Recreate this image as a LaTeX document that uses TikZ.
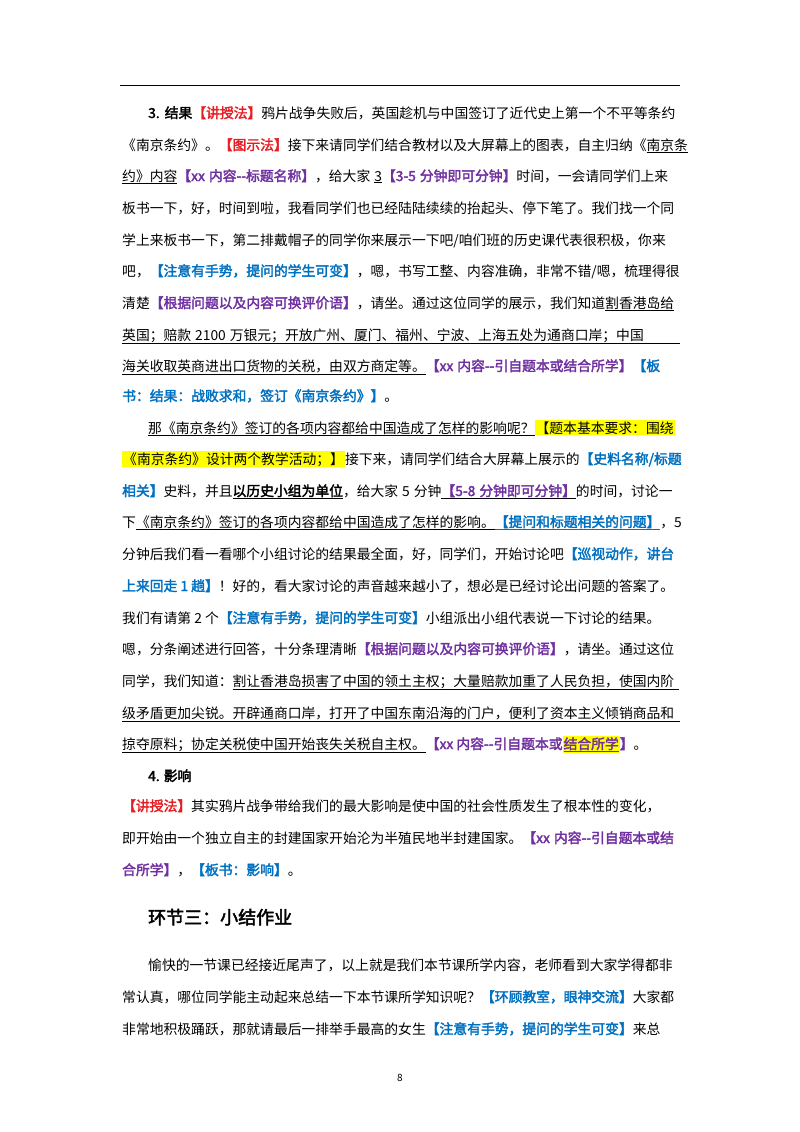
\documentclass[tikz,border=0pt]{standalone}
\usepackage{fontspec}
\setmainfont{Noto Sans CJK SC}[AutoFakeBold=2.5,Ligatures=NoCommon]
\definecolor{cR}{RGB}{230,30,35}
\definecolor{cP}{RGB}{112,48,160}
\definecolor{cB}{RGB}{0,112,192}
\definecolor{cY}{RGB}{255,255,0}
\newcommand\rd[1]{\textcolor{cR}{\textbf{#1}}}
\newcommand\pu[1]{\textcolor{cP}{\textbf{#1}}}
\newcommand\bl[1]{\textcolor{cB}{\textbf{#1}}}
\newcommand\ul[1]{\underline{#1}}
\newcommand\hy[1]{{\fboxsep=1pt\colorbox{cY}{#1}}}
\newcommand\Jf[1]{\makebox[558pt][s]{\spaceskip=4pt\relax #1}}
\newcommand\Ji[1]{\makebox[532pt][s]{\spaceskip=4pt\relax #1}}
\newcommand\dd{{-}{-}}
\XeTeXlinebreaklocale "zh"
\XeTeXlinebreakskip=0pt plus 4pt minus 0.3pt
\begin{document}
\begin{tikzpicture}[x=1pt,y=-1pt,
  ln/.style={anchor=base west,inner sep=0pt,font=\fontsize{13.8}{16}\selectfont}]
\useasboundingbox (0,0) rectangle (800,1132);
\draw[line width=0.6pt] (120,85) -- (680,85);
\def\a{148}\def\b{122}
\node[ln] (l1) at (\a,118) {\Ji{\textbf{3. 结果}\rd{【讲授法】}鸦片战争失败后，英国趁机与中国签订了近代史上第一个不平等条约}};
\node[ln] (l2) at (\b,150) {\Jf{《南京条约》。\rd{【图示法】}接下来请同学们结合教材以及大屏幕上的图表，自主归纳《\ul{南京条}}};
\node[ln] (l3) at (\b,181) {\Jf{\ul{约》内容}\pu{【xx 内容\dd 标题名称】}，给大家 \ul{3}\pu{【3-5 分钟即可分钟】}时间，一会请同学们上来}};
\node[ln] (l4) at (\b,213) {\Jf{板书一下，好，时间到啦，我看同学们也已经陆陆续续的抬起头、停下笔了。我们找一个同}};
\node[ln] (l5) at (\b,245) {\Jf{学上来板书一下，第二排戴帽子的同学你来展示一下吧/咱们班的历史课代表很积极，你来}};
\node[ln] (l6) at (\b,276) {\Jf{吧，\bl{【注意有手势，提问的学生可变】}，嗯，书写工整、内容准确，非常不错/嗯，梳理得很}};
\node[ln] (l7) at (\b,308) {\Jf{清楚\pu{【根据问题以及内容可换评价语】}，请坐。通过这位同学的展示，我们知道\ul{割香港岛给}}};
\node[ln] (l8) at (\b,340) {\ul{\Jf{英国；赔款 2100 万银元；开放广州、厦门、福州、宁波、上海五处为通商口岸；中国}}};
\node[ln] (l9) at (\b,371) {\Jf{\ul{海关收取英商进出口货物的关税，由双方商定等。}\pu{【xx 内容\dd 引自题本或结合所学】}\bl{【板}}};
\node[ln] (l10) at (\b,401) {\bl{书：结果：战败求和，签订《南京条约》】}。};
\node[ln] (m1) at (\a,433) {\Ji{\ul{那《南京条约》签订的各项内容都给中国造成了怎样的影响呢？}\hy{【题本基本要求：围绕}}};
\node[ln] (m2) at (\b,464) {\Jf{\hy{《南京条约》设计两个教学活动；】}接下来，请同学们结合大屏幕上展示的\bl{【史料名称/标题}}};
\node[ln] (m3) at (\b,496) {\Jf{\bl{相关】}史料，并且\ul{\textbf{以历史小组为单位}}，给大家 5 分钟\ul{\pu{【5-8 分钟即可分钟】}}的时间，讨论一}};
\node[ln] (m4) at (\b,527) {\Jf{下\ul{《南京条约》签订的各项内容都给中国造成了怎样的影响。}\bl{\ul{【提问和标题相关的问题】}}，5}};
\node[ln] (m5) at (\b,559) {\Jf{分钟后我们看一看哪个小组讨论的结果最全面，好，同学们，开始讨论吧\bl{【巡视动作，讲台}}};
\node[ln] (m6) at (\b,591) {\bl{上来回走 1 趟】}！好的，看大家讨论的声音越来越小了，想必是已经讨论出问题的答案了。};
\node[ln] (m7) at (\b,623) {我们有请第 2 个\bl{【注意有手势，提问的学生可变】}小组派出小组代表说一下讨论的结果。};
\node[ln] (m8) at (\b,654) {\Jf{嗯，分条阐述进行回答，十分条理清晰\pu{【根据问题以及内容可换评价语】}，请坐。通过这位}};
\node[ln] (m9) at (\b,686) {同学，我们知道：\ul{\makebox[446pt][s]{割让香港岛损害了中国的领土主权；大量赔款加重了人民负担，使国内阶}}};
\node[ln] (m10) at (\b,718) {\ul{\Jf{级矛盾更加尖锐。开辟通商口岸，打开了中国东南沿海的门户，便利了资本主义倾销商品和}}};
\node[ln] (m11) at (\b,749) {\ul{掠夺原料；协定关税使中国开始丧失关税自主权。}\pu{【xx 内容\dd 引自题本或}\hy{\pu{\ul{结合所学}}}\pu{】}。};
\node[ln] (h4) at (\a,781) {\textbf{4. 影响}};
\node[ln] (n1) at (\b,811) {\Jf{\rd{【讲授法】}其实鸦片战争带给我们的最大影响是使中国的社会性质发生了根本性的变化，}};
\node[ln] (n2) at (\b,843) {\Jf{即开始由一个独立自主的封建国家开始沦为半殖民地半封建国家。\pu{【xx 内容\dd 引自题本或结}}};
\node[ln] (n3) at (\b,875) {\pu{合所学】}，\bl{【板书：影响】}。};
\node[ln,font=\fontsize{18}{20}\selectfont\bfseries] (t3) at (\a,924) {环节三：小结作业};
\node[ln] (o1) at (\a,970) {\Ji{愉快的一节课已经接近尾声了，以上就是我们本节课所学内容，老师看到大家学得都非}};
\node[ln] (o2) at (\b,1002) {\Jf{常认真，哪位同学能主动起来总结一下本节课所学知识呢？\bl{【环顾教室，眼神交流】}大家都}};
\node[ln] (o3) at (\b,1034) {\Jf{非常地积极踊跃，那就请最后一排举手最高的女生\bl{【注意有手势，提问的学生可变】}来总}};
\node[anchor=base,inner sep=0pt,font=\fontsize{10}{12}\selectfont] (pg) at (400,1081) {8};
\end{tikzpicture}
\end{document}
